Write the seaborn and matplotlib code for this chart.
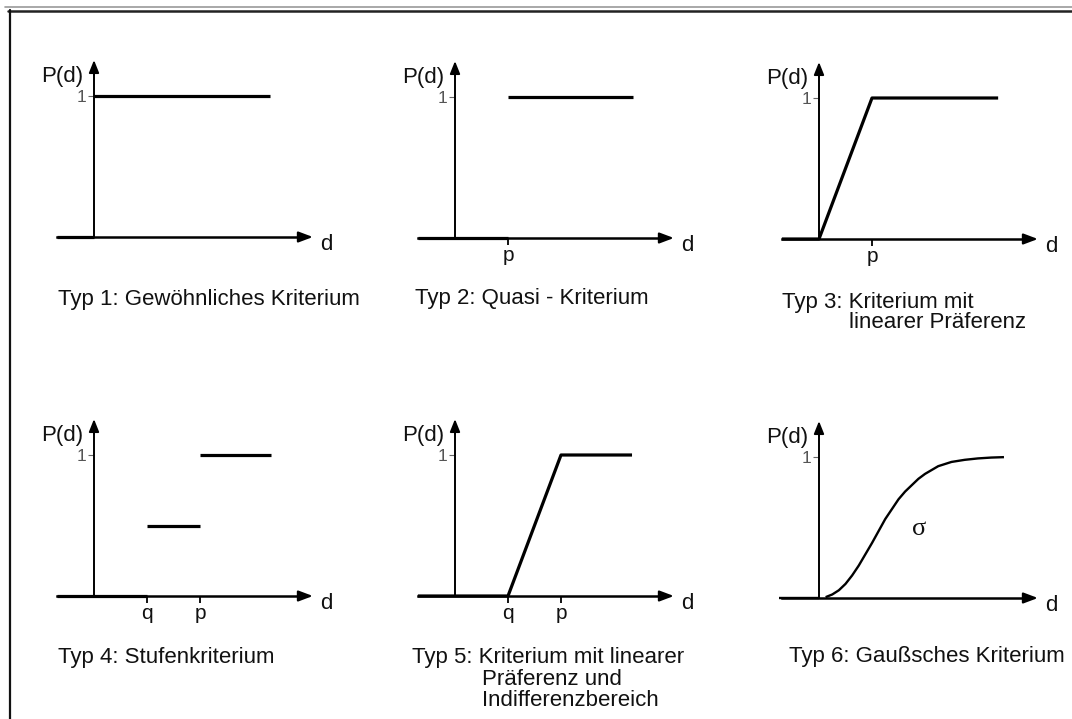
import matplotlib
matplotlib.use("Agg")
import matplotlib.pyplot as plt
from matplotlib.lines import Line2D
import numpy as np
import pandas as pd
import seaborn as sns

sns.set_style("white")
plt.rcParams["font.family"] = ["Liberation Sans", "DejaVu Sans"]

# --- values (d in units of q/p, P(d) in 0..1) ---
typ1_d = [-0.70, 0.0, 0.0, 3.32]
typ1_P = [0.0, 0.0, 1.0, 1.0]
typ1_seg = [0, 0, 1, 1]

typ2_d = [-0.70, 1.0, 1.0, 3.36]
typ2_P = [0.0, 0.0, 1.0, 1.0]
typ2_seg = [0, 0, 1, 1]

typ3_d = [-0.70, 0.0, 1.0, 3.38]
typ3_P = [0.0, 0.0, 1.0, 1.0]
typ3_seg = [0, 0, 0, 0]

typ4_d = [-0.70, 1.0, 1.0, 2.0, 2.0, 3.34]
typ4_P = [0.0, 0.0, 0.5, 0.5, 1.0, 1.0]
typ4_seg = [0, 0, 1, 1, 2, 2]

typ5_d = [-0.70, 1.0, 2.0, 3.34]
typ5_P = [0.0, 0.0, 1.0, 1.0]
typ5_seg = [0, 0, 0, 0]

typ6_d = [-0.75, 0.0, 0.125, 0.25, 0.375, 0.5, 0.625, 0.75, 0.875, 1.0, 1.125,
          1.25, 1.375, 1.5, 1.625, 1.75, 1.875, 2.0, 2.25, 2.5, 2.75, 3.0, 3.25, 3.49]
typ6_P = [0.0, 0.0, 0.006, 0.025, 0.055, 0.10, 0.16, 0.23, 0.31, 0.39, 0.475,
          0.56, 0.63, 0.70, 0.755, 0.80, 0.845, 0.88, 0.935, 0.965, 0.98, 0.99, 0.996, 0.999]
typ6_seg = [0] * 2 + [1] * 22

captions = [
    ["Typ 1: Gewöhnliches Kriterium"],
    ["Typ 2: Quasi - Kriterium"],
    ["Typ 3: Kriterium mit", "linearer Präferenz"],
    ["Typ 4: Stufenkriterium"],
    ["Typ 5: Kriterium mit linearer", "Präferenz und", "Indifferenzbereich"],
    ["Typ 6: Gaußsches Kriterium"],
]
tick_pos = [[], [1], [1], [1, 2], [1, 2], []]
tick_lab = [[], ["p"], ["p"], ["q", "p"], ["q", "p"], []]

W, H = 1072, 719
UX, UY = 53, 141
XLIM = (-0.85, 4.3)
YLIM = (-0.12, 1.3)

fig = plt.figure(figsize=(W / 100, H / 100), dpi=100)
fig.patch.set_facecolor("white")

# origin of each panel (pixels) and caption layout (left x, cap top y) per line
origins = [(94, 237), (455, 238), (819, 239), (94, 596), (455, 596), (819, 598)]
cap_pos = [
    [(58, 289)],
    [(415, 288)],
    [(782, 292), (849, 312)],
    [(58, 647)],
    [(412, 647), (482, 669), (482, 690)],
    [(789, 646)],
]

frames = []
for d, P, s in [(typ1_d, typ1_P, typ1_seg), (typ2_d, typ2_P, typ2_seg),
                (typ3_d, typ3_P, typ3_seg), (typ4_d, typ4_P, typ4_seg),
                (typ5_d, typ5_P, typ5_seg), (typ6_d, typ6_P, typ6_seg)]:
    frames.append(pd.DataFrame({"d": d, "P": P, "seg": s}))


def make_axes(ox, oy):
    left = ox + XLIM[0] * UX
    right = ox + XLIM[1] * UX
    top = oy - YLIM[1] * UY
    bottom = oy - YLIM[0] * UY
    return fig.add_axes([left / W, 1 - bottom / H, (right - left) / W, (bottom - top) / H])


for i, df in enumerate(frames):
    ox, oy = origins[i]
    ax = make_axes(ox, oy)
    ax.patch.set_alpha(0)
    lw = 1.7 if i == 5 else 2.3
    sns.lineplot(data=df, x="d", y="P", units="seg", estimator=None, sort=False,
                 color="black", lw=lw, ax=ax, solid_capstyle="butt", zorder=3)
    ax.set_xlim(*XLIM)
    ax.set_ylim(*YLIM)
    ax.set_xlabel("")
    ax.set_ylabel("")

    for side in ["top", "right"]:
        ax.spines[side].set_visible(False)
    ax.spines["left"].set_position(("data", 0))
    ax.spines["bottom"].set_position(("data", 0))
    ax.spines["left"].set_bounds(0, 1.2)
    ax.spines["bottom"].set_bounds(-0.70, 4.0)
    ax.spines["left"].set_linewidth(1.4)
    ax.spines["bottom"].set_linewidth(1.8)
    ax.spines["left"].set_color("black")
    ax.spines["bottom"].set_color("black")

    # arrow heads
    ax.annotate("", xy=(4.13, 0), xytext=(3.9, 0), annotation_clip=False,
                arrowprops=dict(arrowstyle="-|>,head_length=0.85,head_width=0.32",
                                lw=1.6, color="black", shrinkA=0, shrinkB=0))
    ax.annotate("", xy=(0, 1.255), xytext=(0, 1.15), annotation_clip=False,
                arrowprops=dict(arrowstyle="-|>,head_length=0.75,head_width=0.3",
                                lw=1.4, color="black", shrinkA=0, shrinkB=0))

    ax.set_yticks([1])
    ax.set_yticklabels(["1"])
    ax.tick_params(axis="y", left=True, direction="out", length=4, width=0.8,
                   color="#666666", pad=1.5, labelsize=12.5, labelcolor="#555555")
    ax.set_xticks(tick_pos[i])
    ax.set_xticklabels(tick_lab[i])
    ax.tick_params(axis="x", bottom=True, direction="out", length=5, width=1.3,
                   color="black", pad=1, labelsize=15, labelcolor="#111111")

    ax.annotate("P(d)", xy=(0, 1.10), xytext=(-7.5, 0), textcoords="offset points",
                ha="right", va="baseline", fontsize=16, color="#111111",
                annotation_clip=False)
    ax.annotate("d", xy=(4.13, 0), xytext=(5.5, -9.5), textcoords="offset points",
                ha="left", va="baseline", fontsize=16, color="#111111",
                annotation_clip=False)

    if i == 5:
        ax.text(1.89, 0.49, "σ", ha="center", va="center", fontsize=19,
                family=["Liberation Serif", "DejaVu Serif"], color="#111111")

    for line, (cx, cy) in zip(captions[i], cap_pos[i]):
        fig.text(cx / W, 1 - cy / H, line, ha="left", va="top", fontsize=16,
                 color="#111111")

# page frame
fig.add_artist(Line2D([5 / W, 1], [1 - 7 / H] * 2, color="#9a9a9a", lw=1.2))
fig.add_artist(Line2D([8 / W, 1], [1 - 10.5 / H] * 2, color="#222222", lw=1.8))
fig.add_artist(Line2D([9.5 / W] * 2, [1 - 10 / H, 0], color="#111111", lw=1.6))

fig.savefig("out.png", dpi=100)
